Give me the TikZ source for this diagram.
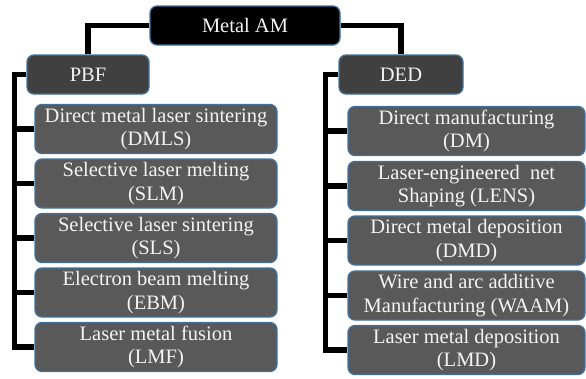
\documentclass[tikz,border=0pt]{standalone}
\usepackage{fontspec}
\setmainfont{Liberation Serif}
\usetikzlibrary{backgrounds}
\definecolor{edgeblue}{HTML}{41719C}
\definecolor{headgray}{HTML}{404040}
\definecolor{itemgray}{HTML}{595959}
\definecolor{labelwhite}{HTML}{F4F4F4}
\tikzset{
  box/.style={draw=edgeblue, line width=1.3pt, rounded corners=7pt, text=labelwhite,
    inner sep=0pt, align=center, font=\fontsize{20.5}{23.5}\selectfont},
  rootbox/.style={box, fill=black, minimum width=190pt, minimum height=39pt},
  headbox/.style={box, fill=headgray, minimum height=39pt},
  itembox/.style={box, fill=itemgray, minimum height=49pt},
  link/.style={line width=5.5pt, line join=miter}
}
\begin{document}
\begin{tikzpicture}[x=1pt, y=-1pt]
\useasboundingbox (0,0) rectangle (586,378);

% root and the two families
\node[rootbox] (root) at (245,25.5) {Metal AM};
\node[headbox, minimum width=122pt] (pbf) at (88,74.5) {PBF};
\node[headbox, minimum width=124pt] (ded) at (401,74.5) {DED};

% powder bed fusion processes
\node[itembox, minimum width=242pt] (dmls) at (156,129)   {Direct metal laser sintering\\(DMLS)};
\node[itembox, minimum width=242pt] (slm)  at (156,183.5) {Selective laser melting\\(SLM)};
\node[itembox, minimum width=242pt] (sls)  at (156,238)   {Selective laser sintering\\(SLS)};
\node[itembox, minimum width=242pt] (ebm)  at (156,292.5) {Electron beam melting\\(EBM)};
\node[itembox, minimum width=242pt] (lmf)  at (156,347)   {Laser metal fusion\\(LMF)};

% directed energy deposition processes
\node[itembox, minimum width=237pt] (dm)   at (466.5,131)   {Direct manufacturing\\(DM)};
\node[itembox, minimum width=237pt] (lens) at (466.5,186)   {Laser-engineered\ \ net\\Shaping (LENS)};
\node[itembox, minimum width=237pt] (dmd)  at (466.5,240.5) {Direct metal deposition\\(DMD)};
\node[itembox, minimum width=237pt] (waam) at (466.5,295.5) {Wire and arc additive\\Manufacturing (WAAM)};
\node[itembox, minimum width=237pt] (lmd)  at (466.5,350)   {Laser metal deposition\\(LMD)};

\coordinate (pbfbus) at (14.5,74.5);
\coordinate (dedbus) at (325.5,74.5);

\begin{scope}[on background layer]
  \draw[link] (root.west) -| (pbf.north);
  \draw[link] (root.east) -| (ded.north);
  \draw[link] (pbf.west) -- (pbfbus) |- (lmf.west);
  \draw[link] (ded.west) -- (dedbus) |- (lmd.west);
  \foreach \c in {dmls,slm,sls,ebm}
    \draw[link] (pbfbus |- \c.west) -- (\c.west);
  \foreach \c in {dm,lens,dmd,waam}
    \draw[link] (dedbus |- \c.west) -- (\c.west);
\end{scope}
\end{tikzpicture}
\end{document}
